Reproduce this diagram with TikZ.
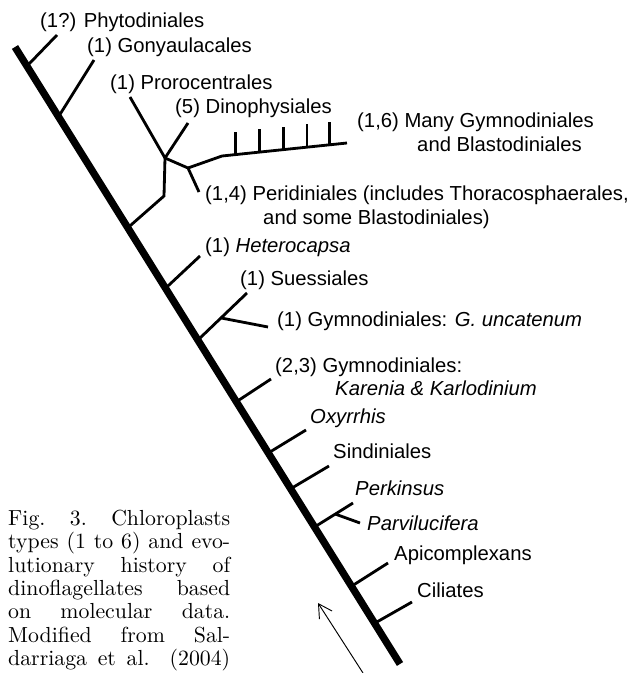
\documentclass[tikz,border=0pt]{standalone}
\usepackage{fontspec}
\usepackage{tikz}
\usetikzlibrary{arrows.meta, positioning, calc}
\newfontfamily\taxfont{Liberation Sans}
\newfontfamily\capfont{lmroman10-regular}[Extension=.otf]
\newcommand{\capline}[1]{\makebox[6.66cm][s]{#1}}
\tikzset{
  trunk/.style={line width=6.2pt, line cap=butt},
  branch/.style={line width=2.4pt, line join=miter},
  taxon/.style={font=\taxfont\fontsize{17.3}{20.5}\selectfont, anchor=base west, inner sep=0pt},
  caption/.style={font=\capfont\fontsize{18.6}{19.9}\selectfont, align=left, inner sep=0pt, anchor=north west},
}

\begin{document}
\begin{tikzpicture}[x=0.03cm, y=-0.03cm]
  \useasboundingbox (0,0) rectangle (636,673);

  %% main stem
  \coordinate (top) at (15,47);
  \coordinate (bot) at (400,664);
  \draw[trunk] (top) -- (bot);

  %% Phytodiniales, Gonyaulacales
  \coordinate (phy0) at ($(top)!0.031!(bot)$);
  \coordinate (phy) at (57,35);
  \coordinate (gon0) at ($(top)!0.113!(bot)$);
  \coordinate (gon) at (94,60);
  \draw[branch] (phy0) -- (phy);
  \draw[branch] (gon0) -- (gon);
  \node[taxon] (lphy) at (40,27) {(1?) Phytodiniales};
  \node[taxon] (lgon) at (87,52) {(1) Gonyaulacales};

  %% large clade
  \coordinate (big0) at ($(top)!0.293!(bot)$);
  \coordinate (bend1) at (164,196);
  \coordinate (dnode) at (165,158);
  \coordinate (pro) at (130,97);
  \coordinate (dino) at (188,123);
  \coordinate (pnode) at (188,168);
  \coordinate (peri) at (199,192);
  \coordinate (bend2) at (222,156);
  \coordinate (many) at (347,143);
  \draw[branch] (big0) -- (bend1) -- (dnode);
  \draw[branch] (pro) -- (dnode) -- (dino);
  \draw[branch] (dnode) -- (pnode) -- (peri);
  \draw[branch] (pnode) -- (bend2) -- (many);
  \foreach \t in {0.11,0.30,0.49,0.68,0.86}
    \draw[branch] ($(bend2)!\t!(many)$) -- ++(0,-23);
  \node[taxon] (lpro) at (110,89) {(1) Prorocentrales};
  \node[taxon] (ldin) at (175,113) {(5) Dinophysiales};
  \node[taxon] (lmany) at (357,127) {(1,6) Many Gymnodiniales};
  \node[taxon] (lmanyb) at (417,151) {and Blastodiniales};
  \node[taxon] (lper) at (205,200) {(1,4) Peridiniales (includes Thoracosphaerales,};
  \node[taxon] (lperb) at (263,224) {and some Blastodiniales)};

  %% Heterocapsa, Suessiales
  \coordinate (het0) at ($(top)!0.391!(bot)$);
  \coordinate (het) at (200,256);
  \draw[branch] (het0) -- (het);
  \coordinate (sue0) at ($(top)!0.475!(bot)$);
  \coordinate (sue) at (247,293);
  \coordinate (snode) at ($(sue0)!0.47!(sue)$);
  \coordinate (unc) at (268,327);
  \draw[branch] (sue0) -- (sue);
  \draw[branch] (snode) -- (unc);
  \node[taxon] (lhet) at (205,252) {(1) \textit{Heterocapsa}};
  \node[taxon] (lsue) at (240,285) {(1) Suessiales};
  \node[taxon] (lunc) at (277,326) {(1) Gymnodiniales: \textit{G. uncatenum}};

  %% Karenia
  \coordinate (kar0) at ($(top)!0.575!(bot)$);
  \coordinate (kar) at (271,379);
  \draw[branch] (kar0) -- (kar);
  \node[taxon] (lkar) at (275,372) {(2,3) Gymnodiniales:};
  \node[taxon] (lkarb) at (335,395) {\textit{Karenia \& Karlodinium}};

  %% basal lineages
  \coordinate (oxy0) at ($(top)!0.658!(bot)$);
  \coordinate (oxy) at (306,430);
  \coordinate (sin0) at ($(top)!0.716!(bot)$);
  \coordinate (sin) at (329,466);
  \coordinate (perk0) at ($(top)!0.778!(bot)$);
  \coordinate (perk) at (353,503);
  \coordinate (knode) at ($(perk0)!0.54!(perk)$);
  \coordinate (parv) at (360,523);
  \coordinate (api0) at ($(top)!0.874!(bot)$);
  \coordinate (api) at (388,563);
  \coordinate (cil0) at ($(top)!0.934!(bot)$);
  \coordinate (cil) at (412,602);
  \draw[branch] (oxy0) -- (oxy);
  \draw[branch] (sin0) -- (sin);
  \draw[branch] (perk0) -- (perk);
  \draw[branch] (knode) -- (parv);
  \draw[branch] (api0) -- (api);
  \draw[branch] (cil0) -- (cil);
  \node[taxon] (loxy) at (310,423) {\textit{Oxyrrhis}};
  \node[taxon] (lsin) at (333,458) {Sindiniales};
  \node[taxon] (lperk) at (355,495) {\textit{Perkinsus}};
  \node[taxon] (lparv) at (367,530) {\textit{Parvilucifera}};
  \node[taxon] (lapi) at (394,560) {Apicomplexans};
  \node[taxon] (lcil) at (417,597) {Ciliates};

  %% time arrow
  \coordinate (arrtail) at (363,673);
  \coordinate (arrhead) at (318,603);
  \draw[line width=0.8pt, -{Straight Barb[length=0.4cm, width=0.45cm]}] (arrtail) -- (arrhead);

  %% caption
  \node[caption] (cap) at (8,510) {%
    \capline{Fig. 3. Chloroplasts}\\
    \capline{types (1 to 6) and evo-}\\
    \capline{lutionary history of}\\
    \capline{dinoflagellates based}\\
    \capline{on molecular data.}\\
    \capline{Modified from Sal-}\\
    \capline{darriaga et al. (2004)}};

\end{tikzpicture}
\end{document}
